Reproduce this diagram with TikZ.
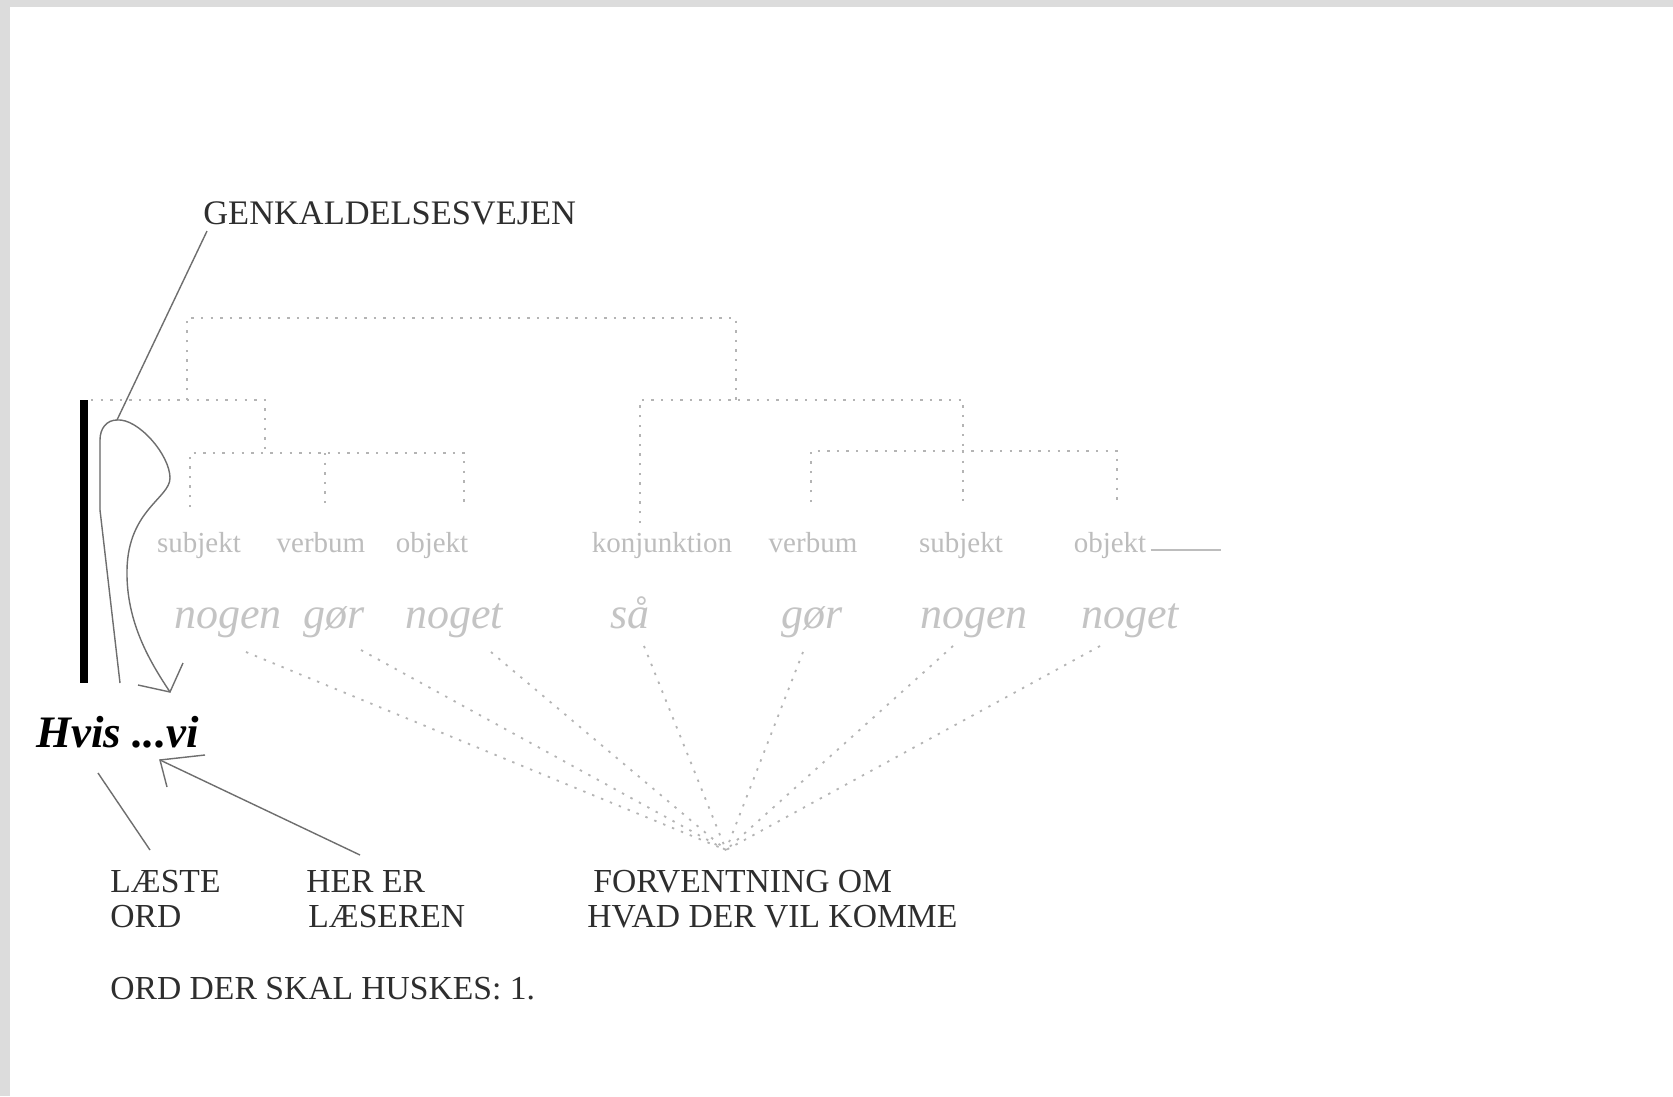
\documentclass[tikz,border=0pt]{standalone}
\usepackage{fontspec}
\setmainfont{Liberation Serif}
\usetikzlibrary{calc}
\definecolor{bordergrey}{HTML}{DCDCDC}
\definecolor{treegrey}{HTML}{B4B4B4}
\definecolor{labgrey}{HTML}{BDBDBD}
\definecolor{wordgrey}{HTML}{C4C4C4}
\definecolor{linegrey}{HTML}{6E6E6E}
\begin{document}
\begin{tikzpicture}[x=0.5pt,y=-0.5pt,
  caps/.style={inner sep=0pt, anchor=north west, align=left, text=black!82,
    font=\fontsize{16.8}{17.5}\selectfont},
  treeline/.style={treegrey, line width=0.9pt, dash pattern=on 1.2pt off 3.6pt},
  expect/.style={treegrey, line width=0.9pt, dash pattern=on 1.2pt off 3.6pt},
  glab/.style={inner sep=0pt, anchor=base, text=labgrey, font=\fontsize{14.5}{16}\selectfont},
  gword/.style={inner sep=0pt, anchor=base, text=wordgrey, font=\itshape\fontsize{22}{24}\selectfont},
  thinline/.style={linegrey, line width=0.7pt},
]
\useasboundingbox (0,0) rectangle (1673,1096);
\fill[white] (0,0) rectangle (1673,1096);
\fill[bordergrey] (0,0) rectangle (1673,7);
\fill[bordergrey] (0,0) rectangle (10,1096);

% ---- texts ----
\node[inner sep=0pt, anchor=west, text=black!82, font=\fontsize{17.2}{18}\selectfont] (gen) at (203,213) {GENKALDELSESVEJEN};
\node[inner sep=0pt, anchor=west, font=\bfseries\itshape\fontsize{22.5}{24}\selectfont] (hvis) at (36,732) {Hvis ...vi};
\node[caps] (laeste) at (110,870) {LÆSTE\\ORD};
\node[caps] (her) at (306,870) {HER ER\\\hspace*{1pt}LÆSEREN};
\node[caps] (forv) at (587,870) {\hspace*{3pt}FORVENTNING OM\\HVAD DER VIL KOMME};
\node[caps] (huskes) at (110,977) {ORD DER SKAL HUSKES: 1.};

% ---- grey grammatical labels ----
\node[glab] (l1) at (199,552) {subjekt};
\node[glab] (l2) at (321,552) {verbum};
\node[glab] (l3) at (432,552) {objekt};
\node[glab] (l4) at (662,552) {konjunktion};
\node[glab] (l5) at (813,552) {verbum};
\node[glab] (l6) at (961,552) {subjekt};
\node[glab] (l7) at (1110,552) {objekt};
\draw[labgrey, line width=0.6pt] (l7.base east) ++(4,-2) coordinate (ul1) -- ++(70,0) coordinate (ul2);

% ---- grey italic words ----
\node[gword] (w1) at (228,628) {nogen};
\node[gword] (w2) at (334,628) {gør};
\node[gword] (w3) at (454,628) {noget};
\node[gword] (w4) at (630,628) {så};
\node[gword] (w5) at (812,628) {gør};
\node[gword] (w6) at (974,628) {nogen};
\node[gword] (w7) at (1130,628) {noget};

% ---- dotted tree ----
\draw[treeline] (187,400) -- (187,318) -- (736,318) -- (736,400);
\draw[treeline] (91,400) -- (265,400) -- (265,453);
\draw[treeline] (190,507) -- (190,453) -- (464,453) -- (464,507);
\draw[treeline] (325,453) -- (325,507);
\draw[treeline] (640,523) -- (640,400) -- (963,400) -- (963,451);
\draw[treeline] (811,502) -- (811,451) -- (1117,451) -- (1117,502);
\draw[treeline] (963,451) -- (963,502);

% ---- expectation lines ----
\coordinate (conv) at (726,850);
\draw[expect] ([shift={(18,24)}]w1.base) -- (conv);
\draw[expect] ([shift={(27,22)}]w2.base) -- (conv);
\draw[expect] ([shift={(37,24)}]w3.base) -- (conv);
\draw[expect] ([shift={(14,18)}]w4.base) -- (conv);
\draw[expect] ([shift={(-9,24)}]w5.base) -- (conv);
\draw[expect] ([shift={(-21,18)}]w6.base) -- (conv);
\draw[expect] ([shift={(-30,18)}]w7.base) -- (conv);

% ---- thick bar ----
\draw[line width=4pt, black] (84,400) -- (84,683);

% ---- recall path ----
\coordinate (top) at (117,420);
\coordinate (tip) at (170,692);
\draw[thinline] (gen.south west) ++(4,6) -- (top);
\draw[thinline] (120,683) -- (100,510) -- (100,440) .. controls (100,428) and (107,420) .. (top);
\draw[linegrey!70, line width=1.2pt] (100,440) -- (100,510);
\draw[thinline] (top) .. controls (138,418) and (170,455) .. (170,478)
  .. controls (170,498) and (128,510) .. (127,570)
  .. controls (126,622) and (150,662) .. (tip);
\draw[thinline] (183,663) -- (tip) -- (138,685);

% ---- pointers below ----
\draw[thinline] (laeste.north west) ++(40,-20) coordinate (lp) -- (98,773);
\coordinate (htip) at (160,760);
\draw[thinline] (her.north west) ++(54,-15) coordinate (hp) -- (htip);
\draw[thinline] (205,755) -- (htip) -- (167,787);
\end{tikzpicture}
\end{document}
